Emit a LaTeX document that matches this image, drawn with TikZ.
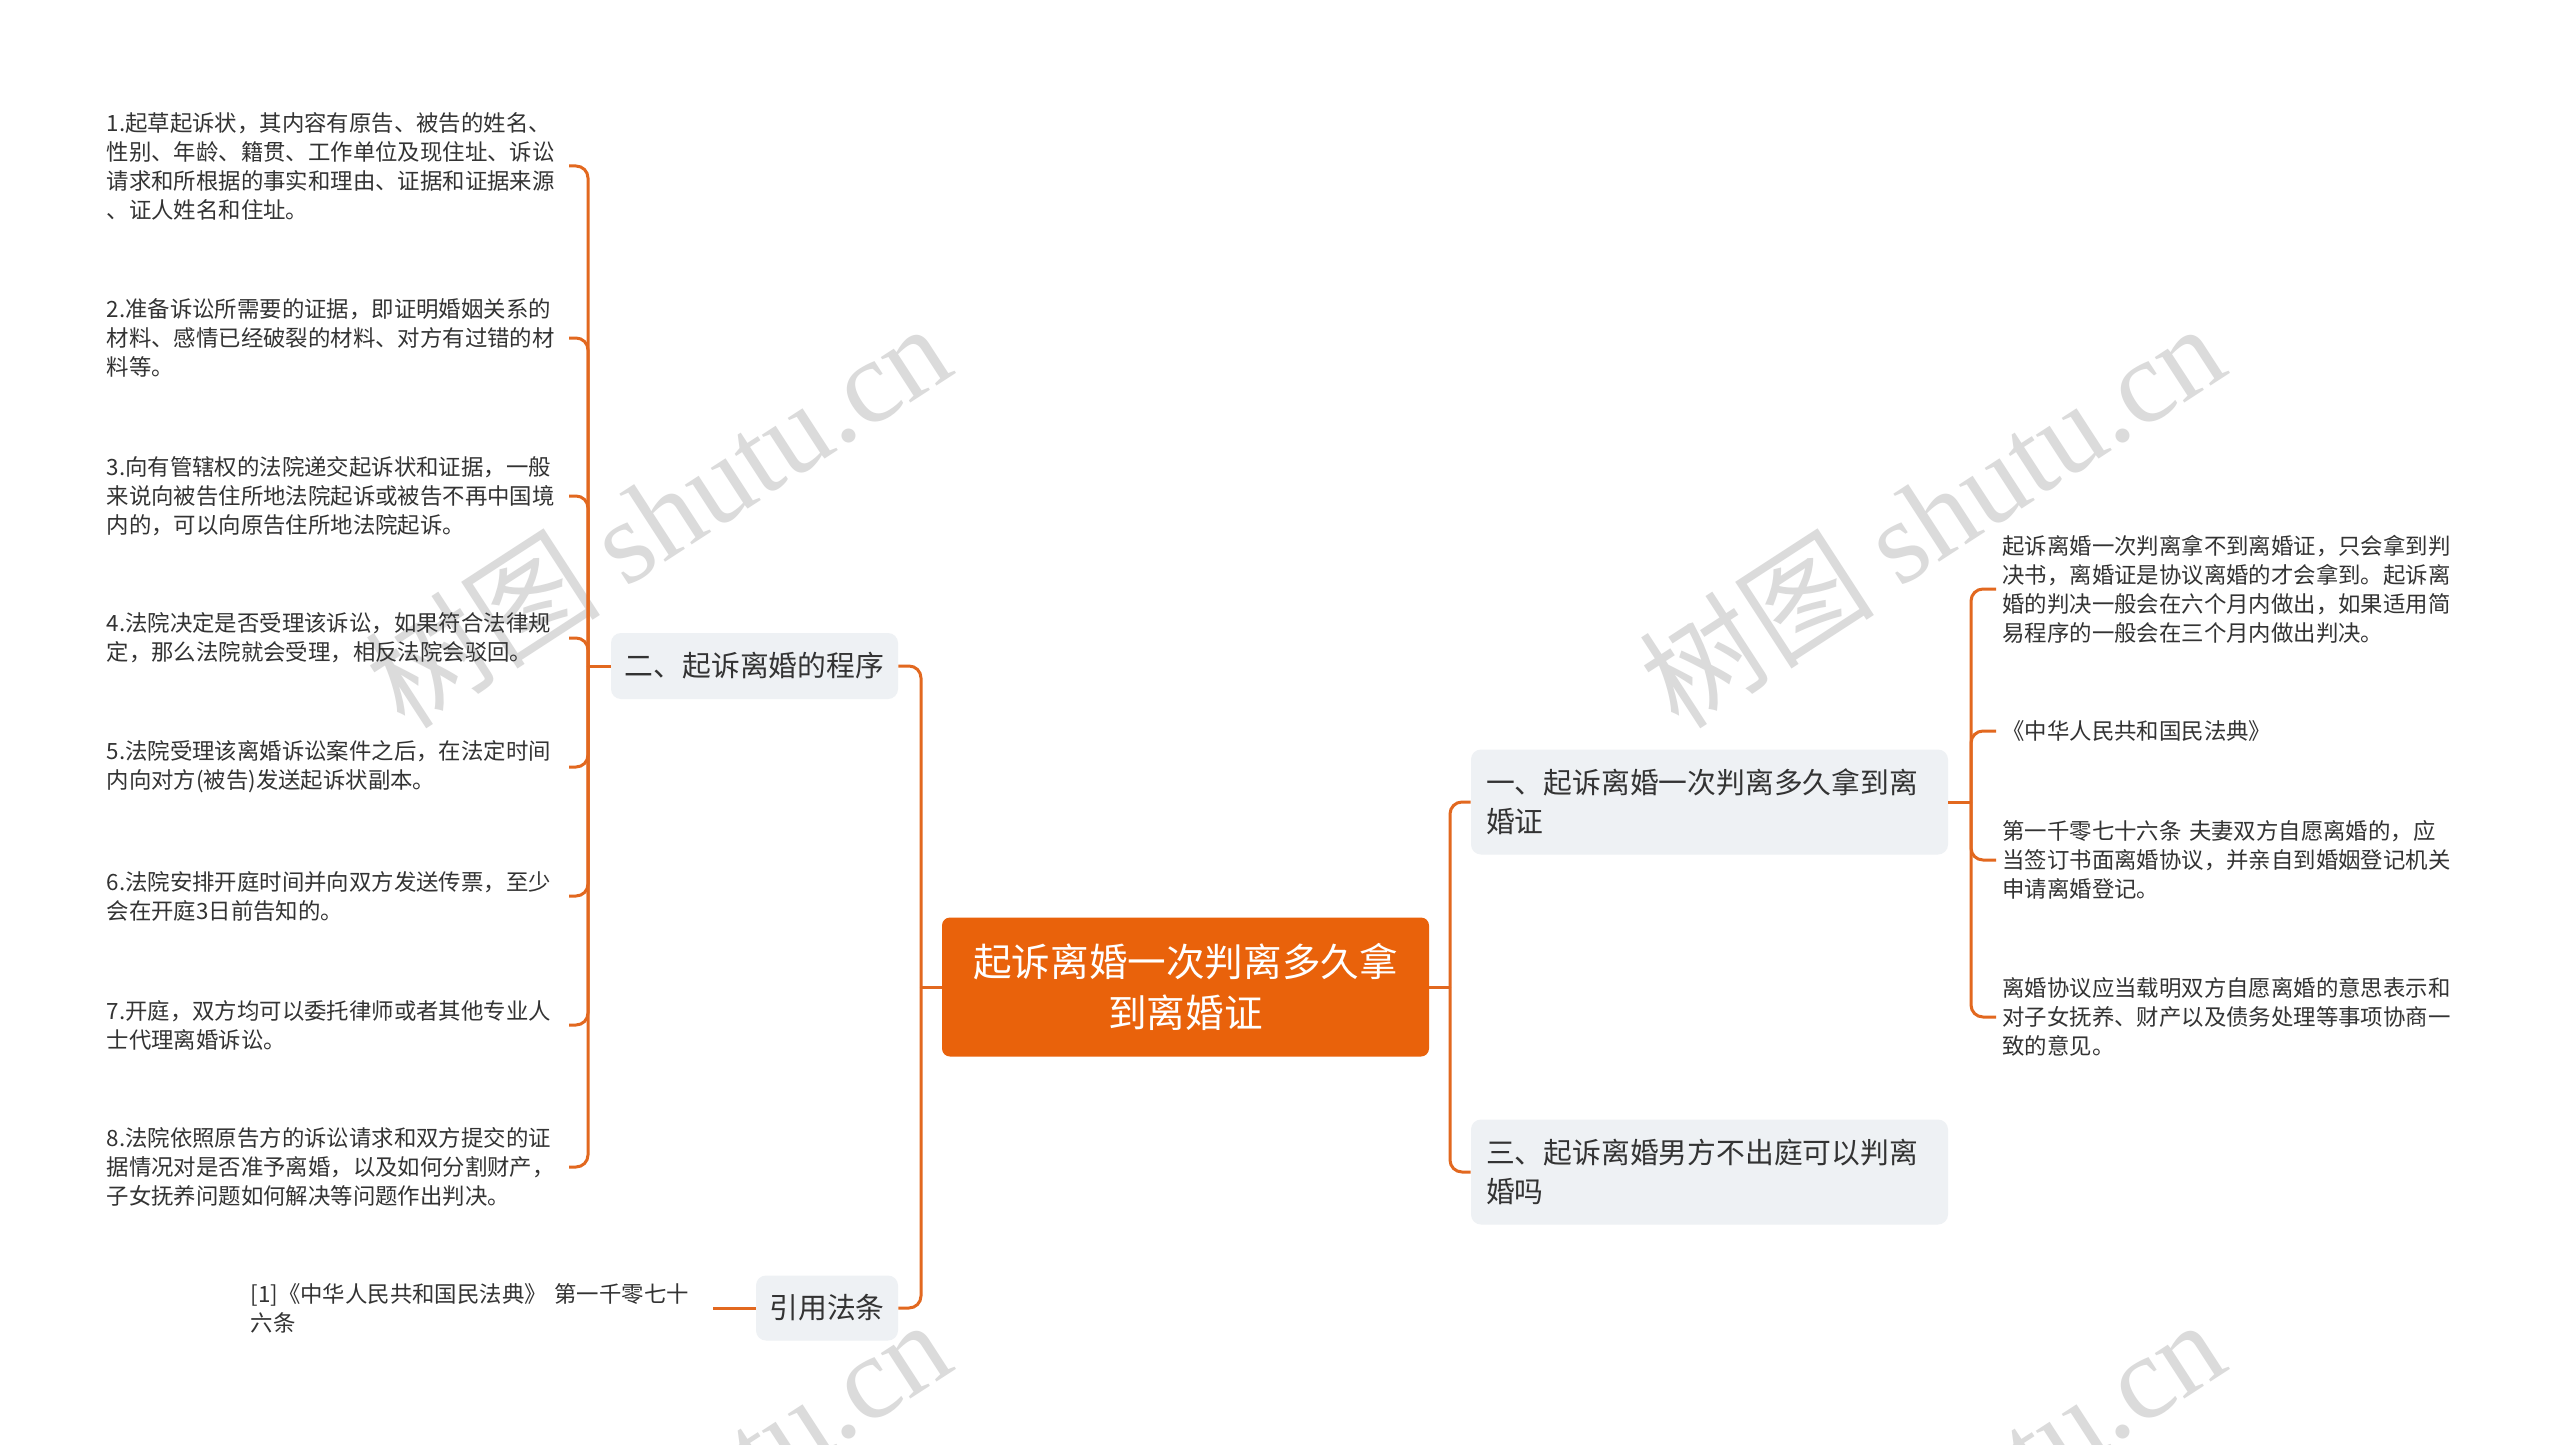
\documentclass[tikz,border=0pt]{standalone}
\usepackage{fontspec}
\setmainfont{Noto Sans CJK SC}
\newfontfamily\wmlatin{Liberation Serif}

\definecolor{rootor}{HTML}{E9620B}
\definecolor{lineor}{HTML}{E2681F}
\definecolor{topicgray}{HTML}{EEF1F4}
\definecolor{textdark}{HTML}{333333}

\tikzset{
  link/.style={draw=lineor, line width=1.5pt, rounded corners=6pt},
  rootbox/.style={fill=rootor, text=white, rounded corners=4pt, align=center,
    minimum width=243.5pt, minimum height=69.5pt,
    font=\fontsize{19.3pt}{25.3pt}\selectfont},
  topic/.style={fill=topicgray, text=textdark, rounded corners=5pt,
    font=\fontsize{14.4pt}{19.6pt}\selectfont},
  leaf/.style={text=textdark, align=left, text width=228pt, inner xsep=3pt,
    inner ysep=2pt, font=\fontsize{11.2pt}{14.5pt}\selectfont},
  wmark/.style={text=gray!28, rotate=33, font=\fontsize{59pt}{59pt}\selectfont}
}

\begin{document}
\begin{tikzpicture}[x=0.5pt, y=-0.5pt]

\useasboundingbox (0,0) rectangle (2560,1445);
\fill[white] (0,0) rectangle (2560,1445);

% Watermarks
\begin{scope}
\clip (0,0) rectangle (2560,1445);
\foreach \wx/\wy in {657/514, 1931/514, 657/1510, 1931/1510}
{
\node[wmark] at (\wx,\wy) {树图 {\wmlatin shutu.cn}};
}
\end{scope}

% Root
\node[rootbox] (root) at (1185.5,987) {起诉离婚一次判离多久拿\\到离婚证};

% Main topics
\node[topic, minimum width=143.5pt, minimum height=33pt] (b2) at (754.5,666) {二、起诉离婚的程序};
\node[topic, minimum width=71pt, minimum height=32.5pt] (b4) at (827,1308) {引用法条};
\node[topic, align=left, text width=223.5pt, inner xsep=7.5pt, minimum height=52.5pt] (b1) at (1709.5,802) {一、起诉离婚一次判离多久拿到离\\婚证};
\node[topic, align=left, text width=223.5pt, inner xsep=7.5pt, minimum height=52.5pt] (b3) at (1709.5,1172) {三、起诉离婚男方不出庭可以判离\\婚吗};

% Steps of the procedure
\node[leaf, anchor=east] (l1) at (569,166) {1.起草起诉状，其内容有原告、被告的姓名、\\性别、年龄、籍贯、工作单位及现住址、诉讼\\请求和所根据的事实和理由、证据和证据来源\\、证人姓名和住址。};
\node[leaf, anchor=east] (l2) at (569,338) {2.准备诉讼所需要的证据，即证明婚姻关系的\\材料、感情已经破裂的材料、对方有过错的材\\料等。};
\node[leaf, anchor=east] (l3) at (569,496) {3.向有管辖权的法院递交起诉状和证据，一般\\来说向被告住所地法院起诉或被告不再中国境\\内的，可以向原告住所地法院起诉。};
\node[leaf, anchor=east] (l4) at (569,638) {4.法院决定是否受理该诉讼，如果符合法律规\\定，那么法院就会受理，相反法院会驳回。};
\node[leaf, anchor=east] (l5) at (569,767) {5.法院受理该离婚诉讼案件之后，在法定时间\\内向对方(被告)发送起诉状副本。};
\node[leaf, anchor=east] (l6) at (569,896) {6.法院安排开庭时间并向双方发送传票，至少\\会在开庭3日前告知的。};
\node[leaf, anchor=east] (l7) at (569,1025) {7.开庭，双方均可以委托律师或者其他专业人\\士代理离婚诉讼。};
\node[leaf, anchor=east] (l8) at (569,1167) {8.法院依照原告方的诉讼请求和双方提交的证\\据情况对是否准予离婚，以及如何分割财产，\\子女抚养问题如何解决等问题作出判决。};

% Citation
\node[leaf, anchor=east] (ref) at (713,1308) {[1]《中华人民共和国民法典》 第一千零七十\\六条};

% Answer details
\node[leaf, anchor=west] (r1) at (1996,589) {起诉离婚一次判离拿不到离婚证，只会拿到判\\决书，离婚证是协议离婚的才会拿到。起诉离\\婚的判决一般会在六个月内做出，如果适用简\\易程序的一般会在三个月内做出判决。};
\node[leaf, anchor=west] (r2) at (1996,731) {《中华人民共和国民法典》};
\node[leaf, anchor=west] (r3) at (1996,860) {第一千零七十六条 夫妻双方自愿离婚的，应\\当签订书面离婚协议，并亲自到婚姻登记机关\\申请离婚登记。};
\node[leaf, anchor=west] (r4) at (1996,1017) {离婚协议应当载明双方自愿离婚的意思表示和\\对子女抚养、财产以及债务处理等事项协商一\\致的意见。};

% Root to main topics
\coordinate (lj) at (921,987);
\coordinate (rj) at (1450,987);
\draw[link] (root.west) -- (lj);
\draw[link] (root.east) -- (rj);
\draw[link] (b2.east) -| (lj);
\draw[link] (b4.east) -| (lj);
\draw[link] (b1.west) -| (rj);
\draw[link] (b3.west) -| (rj);

% Topic to leaves
\coordinate (lk) at (588,666);
\draw[link] (b2.west) -- (lk);
\foreach \n in {l1,l2,l3,l4,l5,l6,l7,l8}
{
\draw[link] (\n.east) -| (lk);
}

\coordinate (rk) at (1971,802);
\draw[link] (b1.east) -- (rk);
\foreach \n in {r1,r2,r3,r4}
{
\draw[link] (\n.west) -| (rk);
}

\draw[link] (ref.east) -- (b4.west);

\end{tikzpicture}
\end{document}
